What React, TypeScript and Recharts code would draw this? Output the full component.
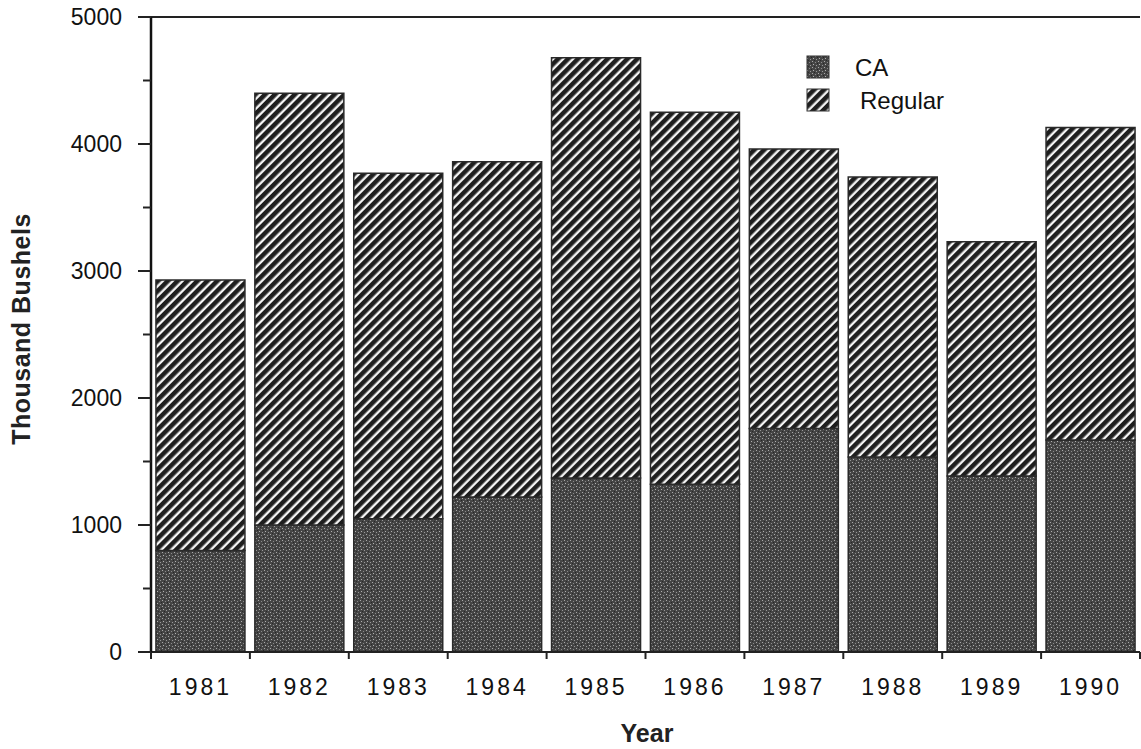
import { BarChart, Bar, XAxis, YAxis, ReferenceLine, Legend, Label } from 'recharts';

const years = ['1981', '1982', '1983', '1984', '1985', '1986', '1987', '1988', '1989', '1990'];
const caValues = [800, 1000, 1050, 1220, 1370, 1320, 1760, 1535, 1385, 1670];
const regularValues = [2130, 3400, 2720, 2640, 3310, 2930, 2200, 2205, 1845, 2460];
const yTicks = [0, 500, 1000, 1500, 2000, 2500, 3000, 3500, 4000, 4500, 5000];

const data = years.map((year, i) => ({
  year,
  ca: caValues[i],
  regular: regularValues[i],
}));

const FONT = '"Liberation Sans", Arial, Helvetica, sans-serif';

// stipple for CA, diagonal hatch for Regular
const Patterns = ({ prefix }: { prefix: string }) => (
  <defs>
    <pattern id={`${prefix}-ca`} width="6" height="6" patternUnits="userSpaceOnUse">
      <rect width="6" height="6" fill="#454545" />
      <rect x="0" y="0" width="1" height="1" fill="#a8a8a8" />
      <rect x="3" y="1" width="1" height="1" fill="#8a8a8a" />
      <rect x="1" y="3" width="1" height="1" fill="#b0b0b0" />
      <rect x="4" y="4" width="1" height="1" fill="#989898" />
      <rect x="5" y="2" width="1" height="1" fill="#262626" />
      <rect x="2" y="5" width="1" height="1" fill="#2a2a2a" />
    </pattern>
    <pattern
      id={`${prefix}-reg`}
      width="7"
      height="7"
      patternUnits="userSpaceOnUse"
      patternTransform="rotate(45)"
    >
      <rect width="7" height="7" fill="#f4f4f4" />
      <rect x="0" y="0" width="4.6" height="7" fill="#1e1e1e" />
    </pattern>
  </defs>
);

const YTick = (props: any) => {
  const { x, y, payload } = props;
  const major = payload.value % 1000 === 0;
  return (
    <g>
      <line x1={x - (major ? 13 : 8)} y1={y} x2={x} y2={y} stroke="#222" strokeWidth={2} />
      {major && (
        <text x={x - 29} y={y} dy={8} textAnchor="end" fontSize={23} fontFamily={FONT} fill="#111">
          {payload.value}
        </text>
      )}
    </g>
  );
};

// label at band centre, tick marks at band edges
const XTick = (props: any) => {
  const { x, y, payload, index, visibleTicksCount } = props;
  const half = payload.offset || 49.4;
  const last = index === (visibleTicksCount ?? years.length) - 1;
  return (
    <g>
      <line x1={x - half} y1={y} x2={x - half} y2={y + 7} stroke="#222" strokeWidth={2} />
      {last && <line x1={x + half} y1={y} x2={x + half} y2={y + 7} stroke="#222" strokeWidth={2} />}
      <text
        x={x}
        y={y}
        dy={43}
        textAnchor="middle"
        fontSize={23}
        letterSpacing={3}
        fontFamily={FONT}
        fill="#111"
      >
        {payload.value}
      </text>
    </g>
  );
};

const LegendBox = () => (
  <svg width={200} height={80} style={{ display: 'block', overflow: 'visible' }}>
    <Patterns prefix="lg" />
    <rect x={1} y={1} width={22} height={22} fill="url(#lg-ca)" stroke="#333" strokeWidth={1} />
    <rect x={1} y={34} width={22} height={22} fill="url(#lg-reg)" stroke="#333" strokeWidth={1} />
    <text x={49} y={21} fontSize={24} fontFamily={FONT} fill="#111">CA</text>
    <text x={54} y={54} fontSize={24} fontFamily={FONT} fill="#111">Regular</text>
  </svg>
);

export default function App() {
  return (
    <div
      style={{
        position: 'absolute',
        left: 0,
        top: 0,
        width: 1141,
        height: 749,
        overflow: 'hidden',
        background: '#fff',
      }}
    >
      <BarChart
        width={1141}
        height={749}
        data={data}
        margin={{ top: 17, right: 1, bottom: 0, left: 0 }}
        barCategoryGap="5%"
      >
        <Patterns prefix="ch" />
        <XAxis
          dataKey="year"
          height={97}
          axisLine={{ stroke: '#222', strokeWidth: 2 }}
          tickLine={false}
          tickSize={0}
          tickMargin={0}
          tick={<XTick />}
          interval={0}
        >
          <Label
            content={() => (
              <text x={647} y={742} textAnchor="middle" fontSize={25} fontWeight="bold" fontFamily={FONT} fill="#222">
                Year
              </text>
            )}
          />
        </XAxis>
        <YAxis
          width={151}
          domain={[0, 5000]}
          ticks={yTicks}
          interval={0}
          tickLine={false}
          tickSize={0}
          tickMargin={0}
          tick={<YTick />}
          axisLine={{ stroke: '#111', strokeWidth: 2.5 }}
        >
          <Label
            content={() => (
              <text
                transform="translate(30,329) rotate(-90)"
                textAnchor="middle"
                fontSize={25}
                fontWeight="bold"
                letterSpacing={0.5}
                fontFamily={FONT}
                fill="#222"
              >
                Thousand Bushels
              </text>
            )}
          />
        </YAxis>
        <YAxis
          yAxisId="frame"
          orientation="right"
          width={0}
          domain={[0, 5000]}
          tick={false}
          tickLine={false}
          axisLine={{ stroke: '#999', strokeWidth: 1 }}
        />
        <ReferenceLine y={5000} stroke="#222" strokeWidth={2} />
        <Legend
          layout="vertical"
          align="center"
          verticalAlign="middle"
          wrapperStyle={{ top: 55, left: 806, width: 200, height: 80 }}
          content={() => <LegendBox />}
        />
        <Bar
          dataKey="ca"
          name="CA"
          stackId="a"
          fill="url(#ch-ca)"
          stroke="#2a2a2a"
          strokeWidth={1.5}
          isAnimationActive={false}
        />
        <Bar
          dataKey="regular"
          name="Regular"
          stackId="a"
          fill="url(#ch-reg)"
          stroke="#2a2a2a"
          strokeWidth={1.5}
          isAnimationActive={false}
        />
      </BarChart>
    </div>
  );
}
